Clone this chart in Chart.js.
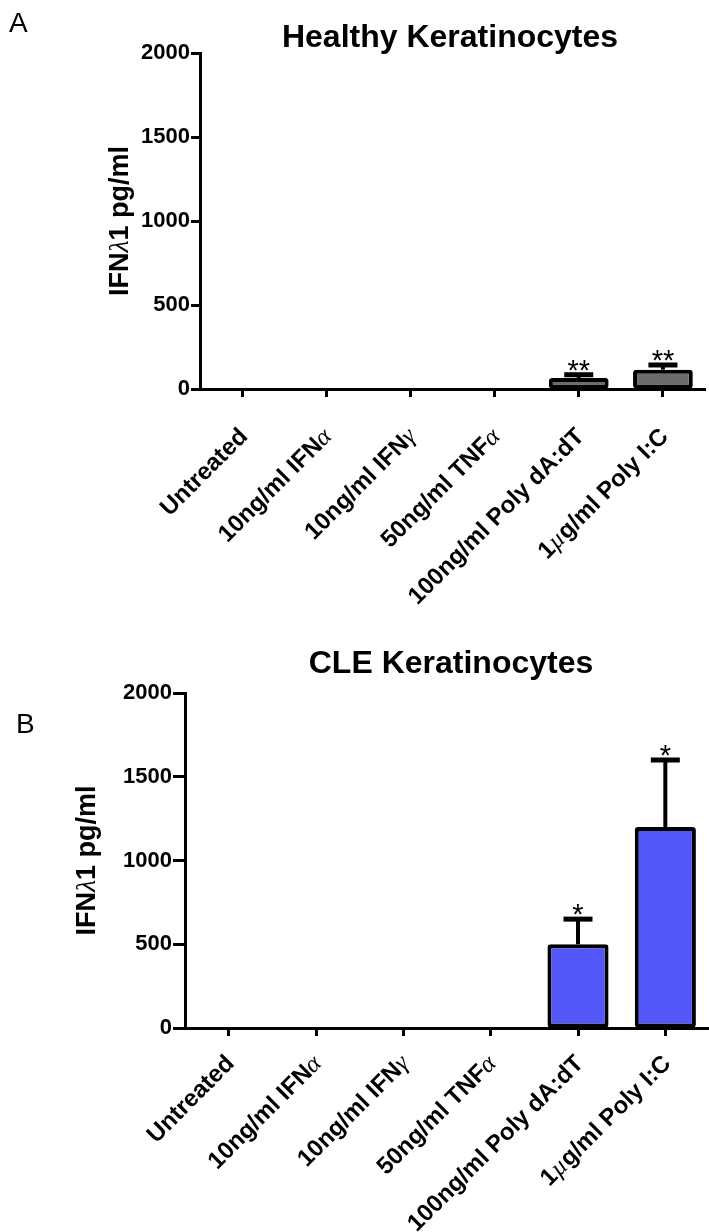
<!DOCTYPE html>
<html>
<head>
<meta charset="utf-8">
<title>IFNλ1 secretion by keratinocytes</title>
<script src="https://cdn.jsdelivr.net/npm/chart.js@4.4.1/dist/chart.umd.min.js"></script>
<style>
  html, body { margin: 0; padding: 0; background: #ffffff; }
  #page { position: relative; width: 709px; height: 1232px; overflow: hidden; }
  .panel { position: absolute; left: 0; width: 709px; }
</style>
</head>
<body>
<div id="page">
  <div class="panel" style="top:0;height:615px"><canvas id="chartA"></canvas></div>
  <div class="panel" style="top:615px;height:617px"><canvas id="chartB"></canvas></div>
</div>
<script>
// Treatments applied to the keratinocytes
const categories = [
  'Untreated',
  '10ng/ml IFNα',
  '10ng/ml IFNγ',
  '50ng/ml TNFα',
  '100ng/ml Poly dA:dT',
  '1µg/ml Poly I:C'
];

// Healthy keratinocytes: mean IFNλ1 (pg/ml), SEM and significance marks
const healthyMeans = [0, 0, 0, 0, 65, 115];
const healthySem   = [0, 0, 0, 0, 20, 28];
const healthySig   = ['', '', '', '', '**', '**'];

// CLE keratinocytes
const cleMeans = [0, 0, 0, 0, 500, 1200];
const cleSem   = [0, 0, 0, 0, 150, 400];
const cleSig   = ['', '', '', '', '*', '*'];

// Shared y axis
const yTickValues = [0, 500, 1000, 1500, 2000];
const yAxisTitle = 'IFNλ1 pg/ml';

const SANS = '"Liberation Sans", Arial, Helvetica, sans-serif';
const SERIF = '"Liberation Serif", "DejaVu Serif", serif';
const GREEK_SPLIT = /([\u03B1-\u03C9\u00B5])/;
const GREEK_ONE = /^[\u03B1-\u03C9\u00B5]$/;

// Draws text where Greek letters are set in a serif face, like symbol-font labels
function drawMixed(ctx, text, x, y, align, size) {
  const parts = text.split(GREEK_SPLIT).filter(s => s.length);
  const fonts = parts.map(p => GREEK_ONE.test(p)
    ? `italic ${Math.round(size * 1.05)}px ${SERIF}`
    : `bold ${size}px ${SANS}`);
  const widths = parts.map((p, i) => { ctx.font = fonts[i]; return ctx.measureText(p).width; });
  const total = widths.reduce((a, b) => a + b, 0);
  let cx = align === 'right' ? x - total : align === 'center' ? x - total / 2 : x;
  ctx.textAlign = 'left';
  parts.forEach((p, i) => { ctx.font = fonts[i]; ctx.fillText(p, cx, y); cx += widths[i]; });
}

function makePanel(canvasId, p) {
  const decor = {
    id: 'panelDecor',
    afterDatasetsDraw(chart) {
      const ctx = chart.ctx;
      const ys = chart.scales.y;
      const meta = chart.getDatasetMeta(0);
      ctx.save();
      ctx.strokeStyle = '#000';
      ctx.fillStyle = '#000';
      meta.data.forEach((bar, i) => {
        if (!p.sem[i]) return;
        const top = ys.getPixelForValue(p.means[i]);
        const end = ys.getPixelForValue(p.means[i] + p.sem[i]);
        ctx.lineWidth = 4;
        ctx.beginPath();
        ctx.moveTo(bar.x, top);
        ctx.lineTo(bar.x, end);
        ctx.stroke();
        ctx.lineWidth = 5;
        ctx.beginPath();
        ctx.moveTo(bar.x - 14.5, end);
        ctx.lineTo(bar.x + 14.5, end);
        ctx.stroke();
        if (p.sig[i]) {
          // significance asterisks sit a few pixels above the cap
          ctx.font = `29px ${SANS}`;
          ctx.textAlign = 'center';
          ctx.textBaseline = 'alphabetic';
          ctx.fillText(p.sig[i], bar.x, end + 5);
        }
      });
      ctx.restore();
    },
    afterDraw(chart) {
      const ctx = chart.ctx;
      const area = chart.chartArea;
      const xs = chart.scales.x;
      ctx.save();
      ctx.fillStyle = '#000';
      // panel letter
      ctx.font = `28px ${SANS}`;
      ctx.textAlign = 'left';
      ctx.textBaseline = 'alphabetic';
      ctx.fillText(p.letter, p.letterX, p.letterY);
      // title
      ctx.font = `bold 32px ${SANS}`;
      ctx.textAlign = 'center';
      ctx.fillText(p.title, p.titleX, p.titleY);
      // y axis title
      ctx.save();
      ctx.translate(p.yTitleX, (area.top + area.bottom) / 2);
      ctx.rotate(-Math.PI / 2);
      ctx.textBaseline = 'middle';
      drawMixed(ctx, yAxisTitle, 0, 0, 'center', 27);
      ctx.restore();
      // rotated category labels
      categories.forEach((label, i) => {
        const x = xs.getPixelForTick(i);
        ctx.save();
        ctx.translate(x + p.labelDx, area.bottom + p.labelDy);
        ctx.rotate(-Math.PI / 4);
        ctx.textBaseline = 'middle';
        drawMixed(ctx, label, 0, 0, 'right', 24);
        ctx.restore();
      });
      ctx.restore();
    }
  };

  return new Chart(document.getElementById(canvasId), {
    type: 'bar',
    data: {
      labels: categories,
      datasets: [{
        data: p.means,
        backgroundColor: p.color,
        borderColor: '#000',
        borderWidth: 4,
        borderSkipped: false,
        borderRadius: 3,
        categoryPercentage: 1,
        barPercentage: p.barPct
      }]
    },
    options: {
      responsive: true,
      maintainAspectRatio: false,
      animation: false,
      devicePixelRatio: 1,
      layout: { padding: { top: p.padTop, right: p.padRight, left: 0, bottom: 0 } },
      plugins: { legend: { display: false }, tooltip: { enabled: false }, title: { display: false } },
      scales: {
        x: {
          type: 'category',
          offset: true,
          grid: {
            offset: false, drawOnChartArea: false, drawTicks: true,
            tickLength: 8, tickWidth: 3, tickColor: '#000'
          },
          border: { display: true, width: 3, color: '#000' },
          ticks: { display: false },
          afterFit: s => { s.height = p.xHeight; }
        },
        y: {
          min: 0,
          max: 2000,
          afterBuildTicks: s => { s.ticks = yTickValues.map(v => ({ value: v })); },
          grid: {
            drawOnChartArea: false, drawTicks: true,
            tickLength: p.yTickLen, tickWidth: 3, tickColor: '#000'
          },
          border: { display: true, width: 3, color: '#000' },
          ticks: {
            color: '#000',
            padding: 1,
            font: { family: SANS, size: 22, weight: 'bold' },
            callback: v => String(v)
          },
          afterFit: s => { s.width = p.yWidth; }
        }
      }
    },
    plugins: [decor]
  });
}

makePanel('chartA', {
  means: healthyMeans, sem: healthySem, sig: healthySig,
  color: '#6b6b6b', barPct: 0.71,
  title: 'Healthy Keratinocytes', titleX: 450, titleY: 47,
  letter: 'A', letterX: 9, letterY: 32,
  padTop: 53, padRight: 4, xHeight: 226, yWidth: 200, yTickLen: 9,
  yTitleX: 121, labelDx: 2, labelDy: 44
});

makePanel('chartB', {
  means: cleMeans, sem: cleSem, sig: cleSig,
  color: '#5457f8', barPct: 0.7,
  title: 'CLE Keratinocytes', titleX: 451, titleY: 58,
  letter: 'B', letterX: 16, letterY: 118,
  padTop: 78, padRight: 0, xHeight: 204, yWidth: 185, yTickLen: 12,
  yTitleX: 88, labelDx: 2, labelDy: 32
});
</script>
</body>
</html>
